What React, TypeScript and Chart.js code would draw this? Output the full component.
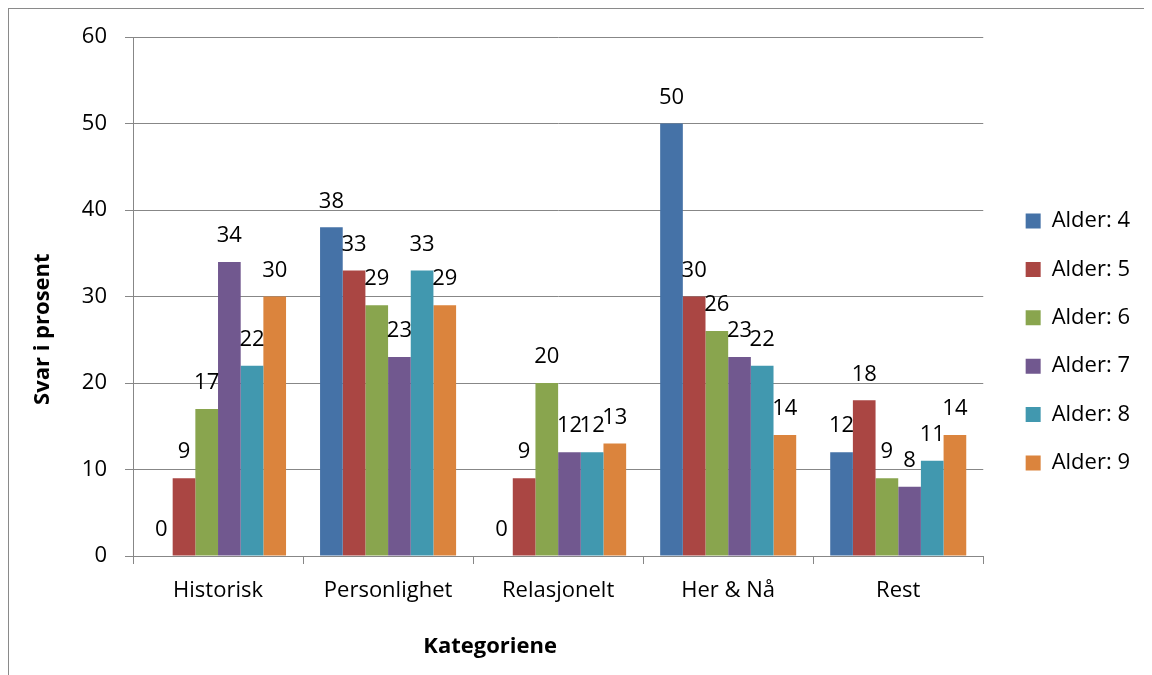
import React, { useEffect, useRef } from "react";
import { Chart, registerables } from "chart.js";

Chart.register(...registerables);

const categories = ["Historisk", "Personlighet", "Relasjonelt", "Her & Nå", "Rest"];
const seriesNames = ["Alder: 4", "Alder: 5", "Alder: 6", "Alder: 7", "Alder: 8", "Alder: 9"];
const alder4 = [0, 38, 0, 50, 12];
const alder5 = [9, 33, 9, 30, 18];
const alder6 = [17, 29, 20, 26, 9];
const alder7 = [34, 23, 12, 23, 8];
const alder8 = [22, 33, 12, 22, 11];
const alder9 = [30, 29, 13, 14, 14];
const seriesValues = [alder4, alder5, alder6, alder7, alder8, alder9];
const seriesColors = ["#4572A7", "#AA4643", "#89A54E", "#71588F", "#4198AF", "#DB843D"];
const yTitle = "Svar i prosent";
const xTitle = "Kategoriene";

const FONT = "'Open Sans', 'DejaVu Sans', sans-serif";
const GRID = "#878787";

const dataLabels = {
  id: "dataLabels",
  afterDatasetsDraw(chart: any) {
    const ctx = chart.ctx;
    ctx.save();
    ctx.font = `22px ${FONT}`;
    ctx.fillStyle = "#000000";
    ctx.textAlign = "center";
    ctx.textBaseline = "middle";
    chart.data.datasets.forEach((ds: any, di: number) => {
      const meta = chart.getDatasetMeta(di);
      meta.data.forEach((bar: any, i: number) => {
        ctx.fillText(String(ds.data[i]), bar.x, bar.y - 26);
      });
    });
    ctx.restore();
  },
};

// Axis titles placed like the original (not centred on the plot area)
const axisTitles = {
  id: "axisTitles",
  afterDraw(chart: any) {
    const { ctx, chartArea } = chart;
    const w = chartArea.right - chartArea.left;
    const h = chartArea.bottom - chartArea.top;
    ctx.save();
    ctx.font = `bold 22px ${FONT}`;
    ctx.fillStyle = "#000000";
    ctx.textAlign = "center";
    ctx.textBaseline = "middle";
    ctx.fillText(xTitle, chartArea.left + 0.42 * w, chartArea.bottom + 91);
    ctx.translate(chartArea.left - 90, chartArea.top + 0.563 * h);
    ctx.rotate(-Math.PI / 2);
    ctx.fillText(yTitle, 0, 0);
    ctx.restore();
  },
};

export default function App() {
  const ref = useRef<HTMLCanvasElement | null>(null);
  useEffect(() => {
    document.documentElement.style.overflow = "hidden";
    if (!ref.current) return;
    const chart = new Chart(ref.current, {
      type: "bar",
      data: {
        labels: categories,
        datasets: seriesNames.map((name, i) => ({
          label: name,
          data: seriesValues[i],
          backgroundColor: seriesColors[i],
          borderWidth: 0,
          categoryPercentage: 0.8,
          barPercentage: 1.0,
          xAxisID: "x",
          yAxisID: "y",
        })),
      },
      options: {
        responsive: false,
        animation: false,
        layout: { padding: { top: 0, left: 0, right: 12, bottom: 0 } },
        plugins: {
          tooltip: { enabled: false },
          legend: {
            position: "right",
            align: "center",
            labels: {
              font: { family: FONT, size: 22 },
              color: "#000000",
              boxWidth: 15,
              boxHeight: 15,
              padding: 26.4,
            },
          },
        },
        scales: {
          x: {
            type: "category",
            position: "bottom",
            grid: {
              display: true,
              drawOnChartArea: false,
              drawTicks: true,
              offset: true,
              tickLength: 8,
              color: GRID,
              lineWidth: 1,
            },
            border: { display: true, color: GRID, width: 1 },
            ticks: {
              font: { family: FONT, size: 22 },
              color: "#000000",
              padding: 14,
              maxRotation: 0,
              autoSkip: false,
            },
            title: { display: false },
            afterFit: (s: any) => {
              s.height = 119;
            },
          },
          y: {
            type: "linear",
            position: "left",
            min: 0,
            max: 60,
            grid: {
              display: true,
              drawOnChartArea: true,
              drawTicks: true,
              tickLength: 8,
              color: GRID,
              lineWidth: 1,
            },
            border: { display: true, color: GRID, width: 1 },
            ticks: {
              stepSize: 10,
              font: { family: FONT, size: 22, lineHeight: 20 / 22 },
              color: "#000000",
              padding: 18,
            },
            title: { display: false },
            afterFit: (s: any) => {
              s.width = 124;
            },
          },
          spacer: {
            type: "linear",
            position: "right",
            display: true,
            grid: { display: false, drawTicks: false },
            border: { display: false },
            ticks: { display: false },
            afterFit: (s: any) => {
              s.width = 16;
            },
          },
        },
      },
      plugins: [dataLabels, axisTitles],
    } as any);
    return () => chart.destroy();
  }, []);
  return (
    <div
      style={{
        borderLeft: "1px solid #8a8a8a",
        borderTop: "1px solid #8a8a8a",
        width: 1143,
        height: 666,
      }}
    >
      <canvas ref={ref} width={1143} height={666} style={{ display: "block" }} />
    </div>
  );
}
